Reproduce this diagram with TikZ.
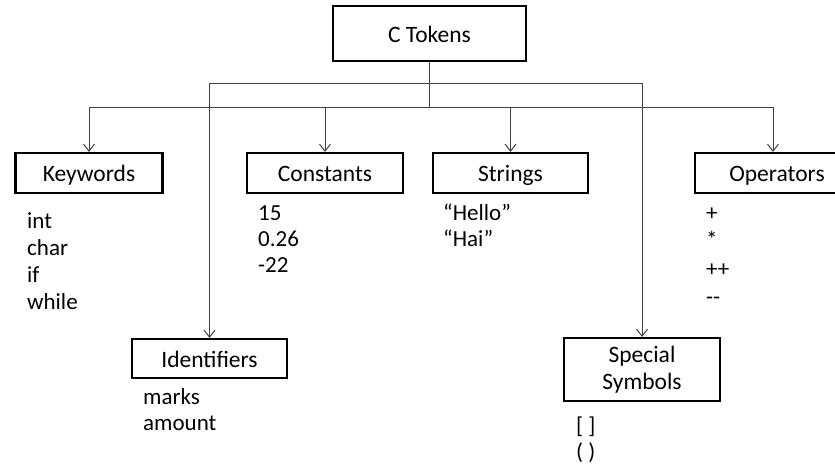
\documentclass[tikz,border=0pt]{standalone}
\usepackage{fontspec}
\setmainfont{Carlito}
\usetikzlibrary{arrows.meta}
\begin{document}
\begin{tikzpicture}[x=1pt,y=-1pt,
  box/.style={draw=black,line width=2.2pt,inner sep=0pt,align=center,
    font=\fontsize{23.5}{27}\selectfont},
  one/.style={text height=17pt,text depth=0pt},
  item/.style={anchor=base west,inner sep=0pt,font=\fontsize{23}{27}\selectfont},
  conn/.style={draw=black!75,line width=1pt},
  arr/.style={conn,-{Straight Barb[length=7pt,width=11pt]}}]
\useasboundingbox (0,0) rectangle (835,467);
\clip (0,0) rectangle (835,467);
% boxes
\node[box,one,minimum width=193pt,minimum height=55pt] (ctok) at (429.5,33.5) {C Tokens};
\node[box,one,minimum width=147pt,minimum height=40pt] (kw) at (89,173) {Keywords};
\node[box,one,minimum width=156pt,minimum height=40pt] (const) at (325,173) {Constants};
\node[box,one,minimum width=155pt,minimum height=40pt] (str) at (510.5,173) {Strings};
\node[box,one,minimum width=156pt,minimum height=40pt] (op) at (773,173) {\hspace*{8pt}Operators};
\node[box,one,minimum width=155pt,minimum height=39pt] (ident) at (209.5,358.5) {Identifiers};
\node[box,minimum width=156pt,minimum height=63pt] (spec) at (642,369.5) {Special\\Symbols};
% junctions
\coordinate (j1) at (429.5,83);
\coordinate (j2) at (429.5,107);
% connectors
\draw[conn] (ctok.south) -- (j2);
\draw[arr] (j1) -| (ident.north);
\draw[arr] (j1) -| (spec.north);
\draw[arr] (j2) -| (kw.north);
\draw[arr] (j2) -| (const.north);
\draw[arr] (j2) -| (str.north);
\draw[arr] (j2) -| (op.north);
% lists
\node[item] (k1) at (27,228) {int};
\node[item] (k2) at (27,255) {char};
\node[item] (k3) at (27,282) {if};
\node[item] (k4) at (27,309) {while};
\node[item] (c1) at (258,220) {15};
\node[item] (c2) at (258,246) {0.26};
\node[item] (c3) at (258,272) {-22};
\node[item] (s1) at (443,220) {“Hello”};
\node[item] (s2) at (443,246) {“Hai”};
\node[item] (o1) at (706,220) {+};
\node[item] (o2) at (706,247) {*};
\node[item] (o3) at (706,276) {++};
\node[item] (o4) at (706,304) {-{}-};
\node[item] (i1) at (143,404) {marks};
\node[item] (i2) at (143,430) {amount};
\node[item] (p1) at (576,433) {[ ]};
\node[item] (p2) at (576,459) {( )};
\end{tikzpicture}
\end{document}
